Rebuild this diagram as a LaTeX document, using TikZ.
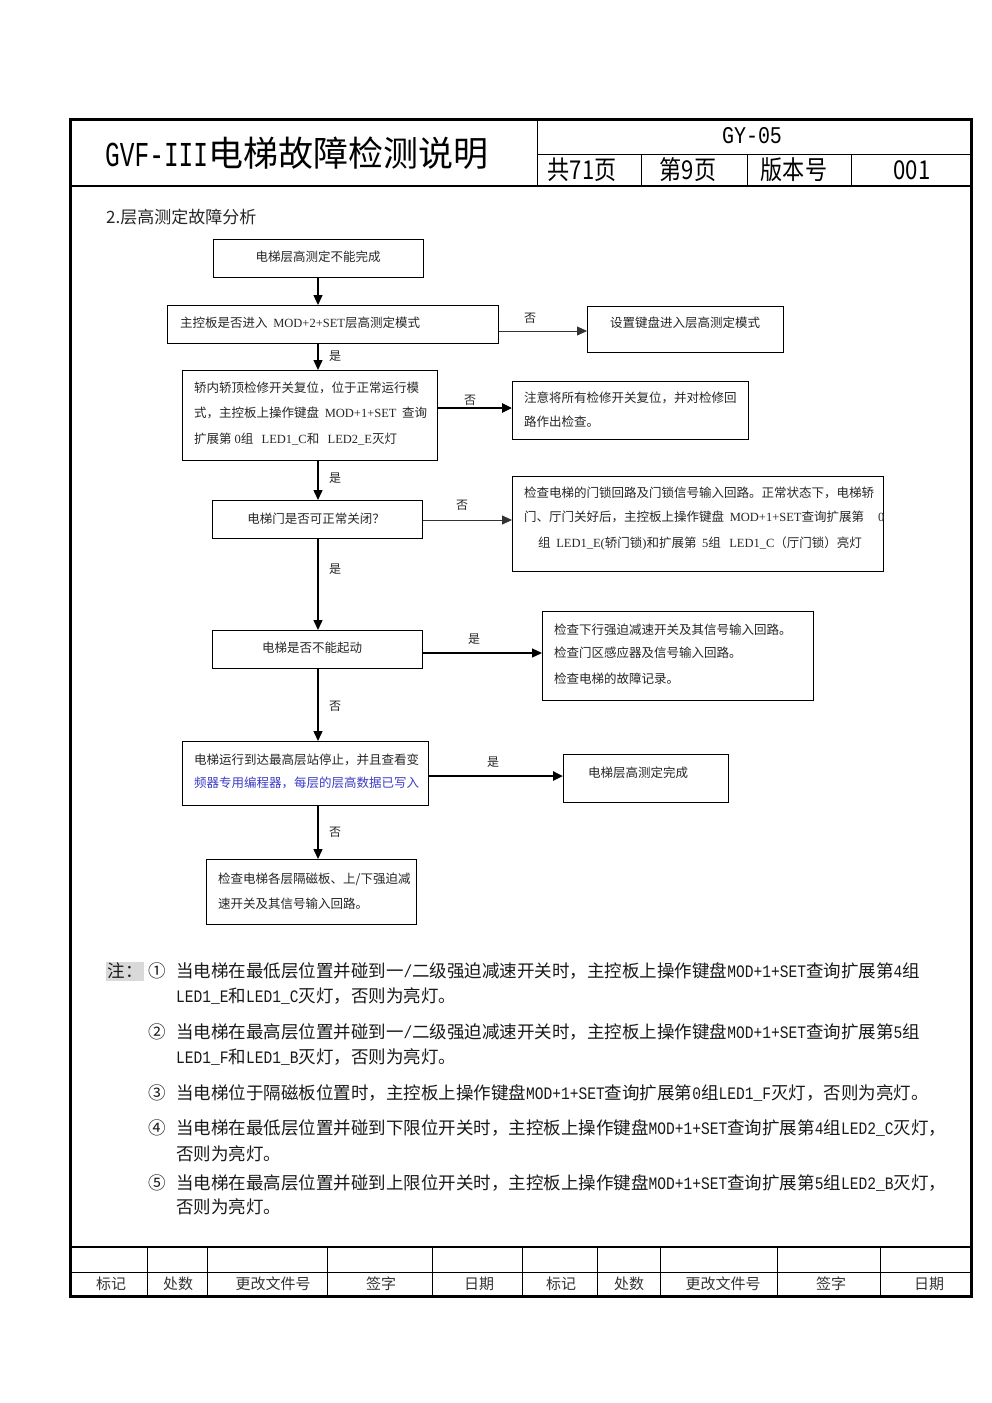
\documentclass[tikz,border=0pt]{standalone}
\usepackage{fontspec}
\setmainfont{Noto Sans CJK SC}
\newfontfamily\cond[FakeStretch=0.85]{Noto Sans CJK SC}
\newfontfamily\hw[FakeStretch=0.833]{Liberation Mono}
\newfontfamily\hwc[FakeStretch=0.7]{Liberation Mono}
\newfontfamily\ser{Liberation Serif}
\usetikzlibrary{arrows.meta}
\definecolor{bluetxt}{RGB}{60,60,200}
\tikzset{
  box/.style={draw=black, line width=0.9pt, inner sep=0pt, anchor=north west},
  ft/.style={inner sep=0pt, font=\fontsize{12.5}{14}\selectfont, text=black!85},
  lbl/.style={inner sep=0pt, font=\fontsize{12}{14}\selectfont, text=black!85},
  note/.style={inner sep=0pt, anchor=west, font=\fontsize{17.5}{20}\selectfont, text=black!90},
  hd/.style={inner sep=0pt, text=black},
  foot/.style={inner sep=0pt, font=\fontsize{15}{17}\selectfont, text=black!80},
  arr/.style={-{Triangle[length=10pt,width=9pt]}, line width=1.4pt},
  arrthin/.style={-{Triangle[length=10pt,width=9pt]}, line width=0.8pt, draw=black!80},
  arrthick/.style={-{Triangle[length=10pt,width=9pt]}, line width=2.4pt},
}
\begin{document}
\begin{tikzpicture}[x=1pt,y=-1pt]
\useasboundingbox (0,0) rectangle (992,1403);
\fill[white] (0,0) rectangle (992,1403);
% frame
\draw[line width=3pt] (70,119) rectangle (971,1296);
\draw[line width=2pt] (70,186) -- (971,186);
\draw[line width=1pt] (537,119) -- (537,186);
\draw[line width=1pt] (537,154) -- (971,154);
\draw[line width=1pt] (641,154) -- (641,186);
\draw[line width=1pt] (747,154) -- (747,186);
\draw[line width=1pt] (851,154) -- (851,186);
% header texts
\node[hd, anchor=west, font=\fontsize{35}{40}\selectfont] (title) at (105,153) {{\hwc GVF-III}电梯故障检测说明};
\node[hd, font=\fontsize{24}{28}\selectfont] (gy) at (752,136) {\hw GY-05};
\node[hd, font=\fontsize{26}{30}\selectfont] (h1) at (582,170) {\cond 共71页};
\node[hd, font=\fontsize{26}{30}\selectfont] (h2) at (688,170) {\cond 第9页};
\node[hd, font=\fontsize{26}{30}\selectfont] (h3) at (794,170) {\cond 版本号};
\node[hd, font=\fontsize{26}{30}\selectfont] (h4) at (912,170) {\cond 001};
% section title
\node[hd, anchor=west, font=\fontsize{17}{20}\selectfont, text=black!85] (sec) at (106,217) {2.层高测定故障分析};

% flowchart boxes
\coordinate (axis) at (318,0);
\node[box, minimum width=210pt, minimum height=38pt] (b1) at (213,239) {};
\node[box, minimum width=331pt, minimum height=38pt] (b2) at (167,305) {};
\node[box, minimum width=196pt, minimum height=46pt] (b3) at (587,306) {};
\node[box, minimum width=255pt, minimum height=90pt] (b4) at (182,370) {};
\node[box, minimum width=236pt, minimum height=58pt] (b5) at (512,381) {};
\node[box, minimum width=210pt, minimum height=38pt] (b6) at (212,500) {};
\node[box, minimum width=371pt, minimum height=95pt] (b7) at (512,476) {};
\node[box, minimum width=210pt, minimum height=38pt] (b8) at (212,630) {};
\node[box, minimum width=271pt, minimum height=89pt] (b9) at (542,611) {};
\node[box, minimum width=246pt, minimum height=64pt] (b10) at (182,741) {};
\node[box, minimum width=165pt, minimum height=48pt] (b11) at (563,754) {};
\node[box, minimum width=210pt, minimum height=65pt] (b12) at (206,859) {};

% box texts
\node[ft] (t1) at (318,257) {电梯层高测定不能完成};
\node[ft, anchor=west] (t2) at (180,323) {主控板是否进入 \ {\ser MOD+2+SET}层高测定模式};
\node[ft] (t3) at (685,323) {设置键盘进入层高测定模式};
\node[ft, anchor=west] (t4a) at (194,388) {轿内轿顶检修开关复位，位于正常运行模};
\node[ft, anchor=west] (t4b) at (194,413) {式，主控板上操作键盘 \ {\ser MOD+1+SET} \ 查询};
\node[ft, anchor=west] (t4c) at (194,439) {扩展第 {\ser 0}组 \ \ {\ser LED1\_C}和 \ \ {\ser LED2\_E}灭灯};
\node[ft, anchor=west] (t5a) at (524,398) {注意将所有检修开关复位，并对检修回};
\node[ft, anchor=west] (t5b) at (524,422) {路作出检查。};
\node[ft] (t6) at (316,519) {电梯门是否可正常关闭？};
\node[ft, anchor=west] (t7a) at (524,493) {检查电梯的门锁回路及门锁信号输入回路。正常状态下，电梯轿};
\node[ft, anchor=west] (t7b) at (524,517) {门、厅门关好后，主控板上操作键盘 \ {\ser MOD+1+SET}查询扩展第};
\node[ft, anchor=west] (t7z) at (878,517) {\ser 0};
\node[ft, anchor=west] (t7c) at (538,543) {组 \ {\ser LED1\_E(}轿门锁{\ser )}和扩展第 \ {\ser 5}组 \ \ {\ser LED1\_C}（厅门锁）亮灯};
\node[ft] (t8) at (312,648) {电梯是否不能起动};
\node[ft, anchor=west] (t9a) at (554,630) {检查下行强迫减速开关及其信号输入回路。};
\node[ft, anchor=west] (t9b) at (554,653) {检查门区感应器及信号输入回路。};
\node[ft, anchor=west] (t9c) at (554,679) {检查电梯的故障记录。};
\node[ft, anchor=west] (t10a) at (194,760) {电梯运行到达最高层站停止，并且查看变};
\node[ft, anchor=west, text=bluetxt] (t10b) at (194,783) {频器专用编程器，每层的层高数据已写入};
\node[ft, anchor=west] (t11) at (588,773) {电梯层高测定完成};
\node[ft, anchor=west] (t12a) at (218,879) {检查电梯各层隔磁板、上/下强迫减};
\node[ft, anchor=west] (t12b) at (218,904) {速开关及其信号输入回路。};

% connectors
\draw[arr] (b1.south -| axis) -- (b2.north -| axis);
\draw[arrthin] (b2.east |- 0,331) -- (b3.west |- 0,331);
\draw[arr] (b2.south -| axis) -- (b4.north -| axis);
\draw[arrthick] (b4.east |- 0,408) -- (b5.west |- 0,408);
\draw[arr] (b4.south -| axis) -- (b6.north -| axis);
\draw[arrthin] (b6.east |- 0,520) -- (b7.west |- 0,520);
\draw[arr] (b6.south -| axis) -- (b8.north -| axis);
\draw[arr, line width=1.2pt] (b8.east |- 0,653) -- (b9.west |- 0,653);
\draw[arr] (b8.south -| axis) -- (b10.north -| axis);
\draw[arrthick] (b10.east |- 0,776) -- (b11.west |- 0,776);
\draw[arr] (b10.south -| axis) -- (b12.north -| axis);

% connector labels
\node[lbl] (l1) at (530,318) {否};
\node[lbl] (l2) at (335,356) {是};
\node[lbl] (l3) at (470,400) {否};
\node[lbl] (l4) at (335,478) {是};
\node[lbl] (l5) at (462,505) {否};
\node[lbl] (l6) at (335,569) {是};
\node[lbl] (l7) at (474,639) {是};
\node[lbl] (l8) at (335,706) {否};
\node[lbl] (l9) at (493,762) {是};
\node[lbl] (l10) at (335,832) {否};

% notes
\node[note, fill=black!15, inner sep=1.5pt] (zhu) at (106,971) {注：};
\node[note] (n1) at (148,971) {①};
\node[note] (n1a) at (176,971) {当电梯在最低层位置并碰到一{\hw /}二级强迫减速开关时，主控板上操作键盘{\hw MOD+1+SET}查询扩展第{\hw 4}组};
\node[note] (n1b) at (176,996) {{\hw LED1\_E}和{\hw LED1\_C}灭灯，否则为亮灯。};
\node[note] (n2) at (148,1032) {②};
\node[note] (n2a) at (176,1032) {当电梯在最高层位置并碰到一{\hw /}二级强迫减速开关时，主控板上操作键盘{\hw MOD+1+SET}查询扩展第{\hw 5}组};
\node[note] (n2b) at (176,1057) {{\hw LED1\_F}和{\hw LED1\_B}灭灯，否则为亮灯。};
\node[note] (n3) at (148,1093) {③};
\node[note] (n3a) at (176,1093) {当电梯位于隔磁板位置时，主控板上操作键盘{\hw MOD+1+SET}查询扩展第{\hw 0}组{\hw LED1\_F}灭灯，否则为亮灯。};
\node[note] (n4) at (148,1128) {④};
\node[note] (n4a) at (176,1128) {当电梯在最低层位置并碰到下限位开关时，主控板上操作键盘{\hw MOD+1+SET}查询扩展第{\hw 4}组{\hw LED2\_C}灭灯，};
\node[note] (n4b) at (176,1154) {否则为亮灯。};
\node[note] (n5) at (148,1183) {⑤};
\node[note] (n5a) at (176,1183) {当电梯在最高层位置并碰到上限位开关时，主控板上操作键盘{\hw MOD+1+SET}查询扩展第{\hw 5}组{\hw LED2\_B}灭灯，};
\node[note] (n5b) at (176,1207) {否则为亮灯。};

% footer table
\draw[line width=1.5pt] (70,1247) -- (971,1247);
\draw[line width=1pt] (70,1272) -- (971,1272);
\foreach \xx in {147,207,327,432,522,597,660,777,880}
  \draw[line width=1pt] (\xx,1247) -- (\xx,1296);
\node[foot] (f1) at (111,1284) {标记};
\node[foot] (f2) at (178,1284) {处数};
\node[foot] (f3) at (273,1284) {更改文件号};
\node[foot] (f4) at (381,1284) {签字};
\node[foot] (f5) at (479,1284) {日期};
\node[foot] (f6) at (561,1284) {标记};
\node[foot] (f7) at (629,1284) {处数};
\node[foot] (f8) at (723,1284) {更改文件号};
\node[foot] (f9) at (831,1284) {签字};
\node[foot] (f10) at (929,1284) {日期};
\end{tikzpicture}
\end{document}
